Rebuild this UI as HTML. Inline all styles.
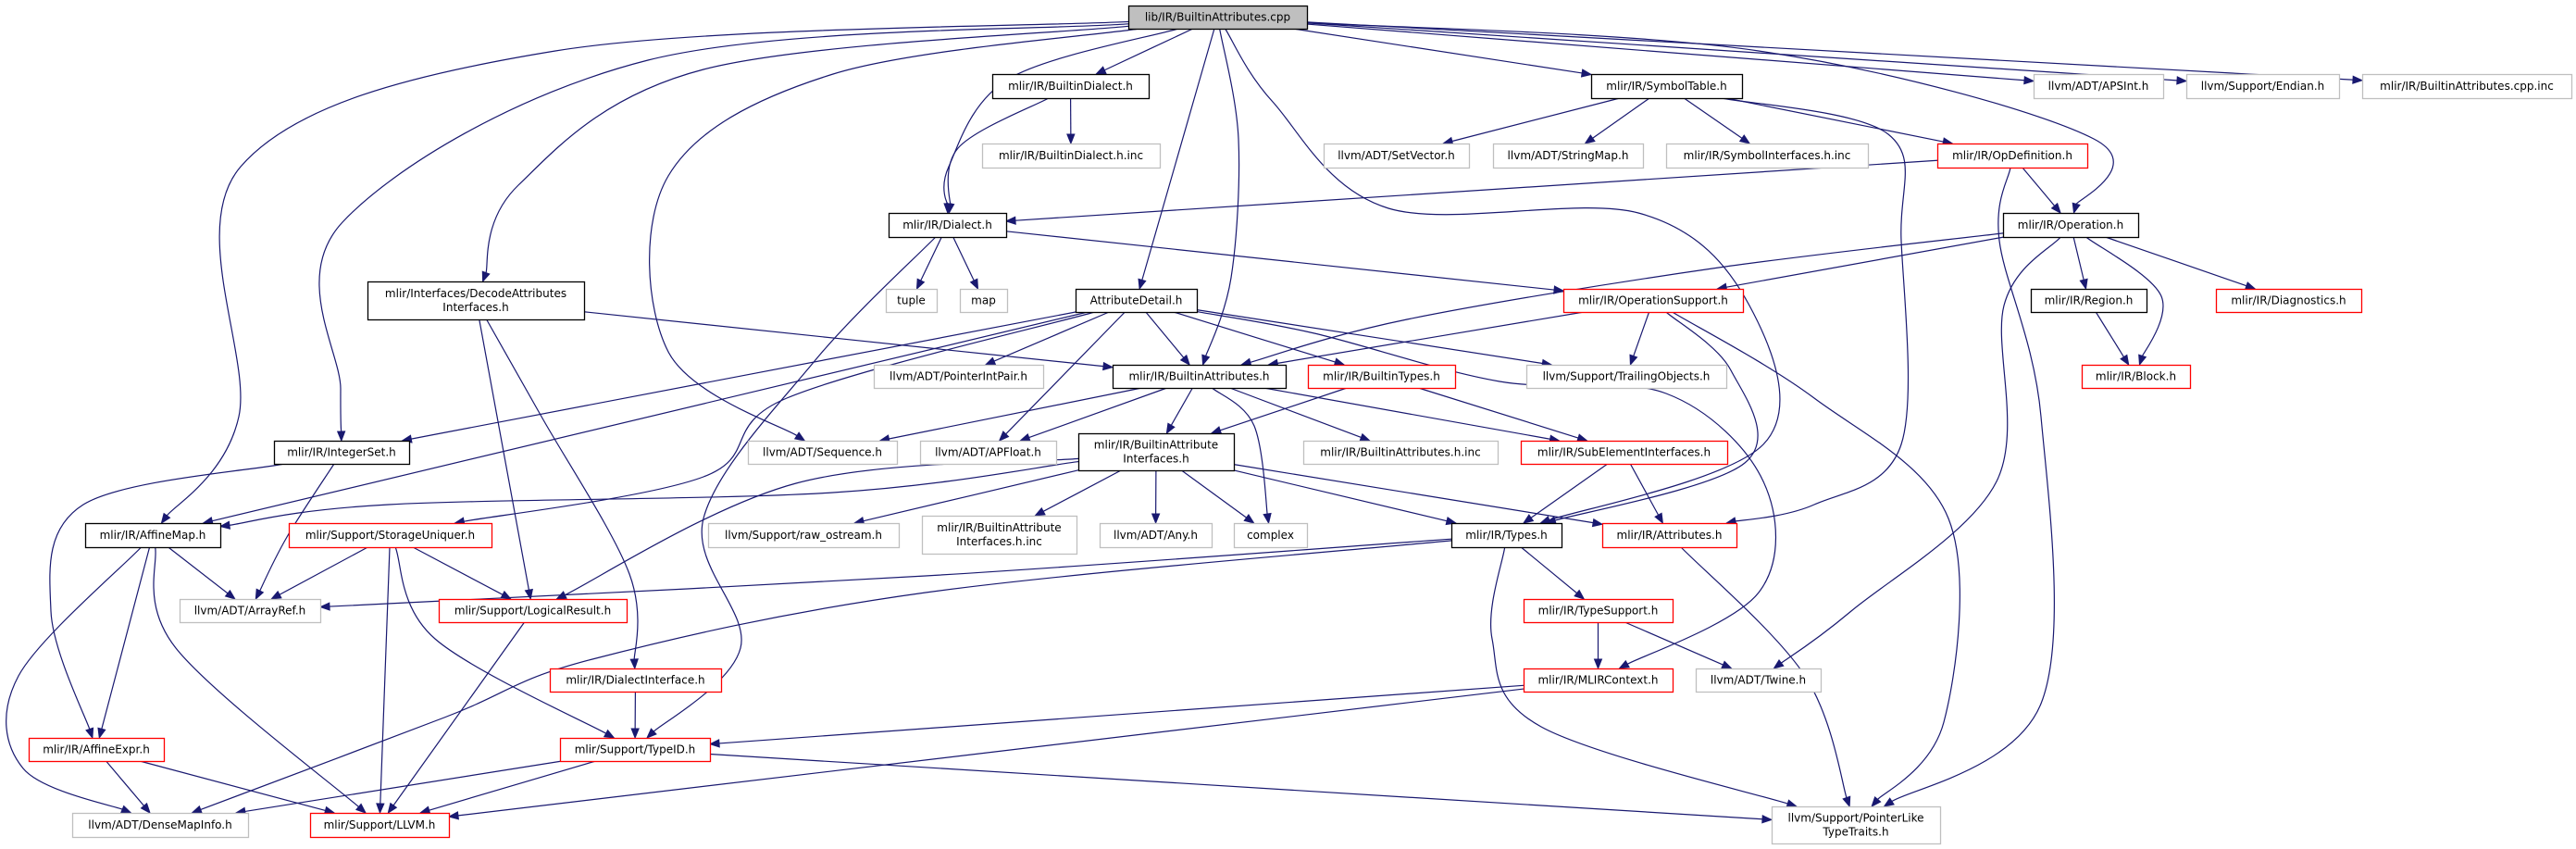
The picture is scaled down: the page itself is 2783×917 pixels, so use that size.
<!DOCTYPE html>
<html><head><meta charset="utf-8"><style>
html,body{margin:0;padding:0;background:#fff;width:2783px;height:917px;overflow:hidden}
svg text{font-family:"DejaVu Sans","Liberation Sans",sans-serif;font-size:12px;fill:#000}
</style></head><body>
<svg id="g" xmlns="http://www.w3.org/2000/svg" width="2783" height="917" viewBox="0 0 2783 917">
<g id="edges"></g><g id="nodes"></g>
</svg>
<script>
var N={
root:[1219,6,193,25,["lib/IR/BuiltinAttributes.cpp"],"root"],
bd:[1072,80,169,26,["mlir/IR/BuiltinDialect.h"],"k"],
bdinc:[1061,155,192,26,["mlir/IR/BuiltinDialect.h.inc"],"g"],
st:[1719,80,163,26,["mlir/IR/SymbolTable.h"],"k"],
apsint:[2197,80,140,26,["llvm/ADT/APSInt.h"],"g"],
endian:[2362,80,165,26,["llvm/Support/Endian.h"],"g"],
cppinc:[2552,80,226,26,["mlir/IR/BuiltinAttributes.cpp.inc"],"g"],
setvec:[1430,155,157,26,["llvm/ADT/SetVector.h"],"g"],
strmap:[1613,155,162,26,["llvm/ADT/StringMap.h"],"g"],
syminc:[1800,155,218,26,["mlir/IR/SymbolInterfaces.h.inc"],"g"],
opdef:[2093,155,162,26,["mlir/IR/OpDefinition.h"],"r"],
dialect:[960,230,127,26,["mlir/IR/Dialect.h"],"k"],
op:[2164,230,146,26,["mlir/IR/Operation.h"],"k"],
decode:[397,304,234,41,["mlir/Interfaces/DecodeAttributes","Interfaces.h"],"k"],
tuple:[957,312,55,25,["tuple"],"g"],
map:[1037,312,51,25,["map"],"g"],
ad:[1162,312,131,25,["AttributeDetail.h"],"k"],
opsup:[1689,312,194,25,["mlir/IR/OperationSupport.h"],"r"],
region:[2194,312,125,25,["mlir/IR/Region.h"],"k"],
diag:[2394,312,157,25,["mlir/IR/Diagnostics.h"],"r"],
pip:[944,394,183,25,["llvm/ADT/PointerIntPair.h"],"g"],
ba:[1202,394,187,25,["mlir/IR/BuiltinAttributes.h"],"k"],
btypes:[1413,394,159,25,["mlir/IR/BuiltinTypes.h"],"r"],
trail:[1649,394,216,25,["llvm/Support/TrailingObjects.h"],"g"],
block:[2249,394,117,25,["mlir/IR/Block.h"],"r"],
iset:[296,476,146,25,["mlir/IR/IntegerSet.h"],"k"],
seq:[808,476,161,25,["llvm/ADT/Sequence.h"],"g"],
apfloat:[994,476,147,25,["llvm/ADT/APFloat.h"],"g"],
bai:[1165,468,168,40,["mlir/IR/BuiltinAttribute","Interfaces.h"],"k"],
bainc:[1408,476,210,25,["mlir/IR/BuiltinAttributes.h.inc"],"g"],
subel:[1643,476,223,25,["mlir/IR/SubElementInterfaces.h"],"r"],
amap:[92,565,146,26,["mlir/IR/AffineMap.h"],"k"],
su:[312,565,219,26,["mlir/Support/StorageUniquer.h"],"r"],
raw:[765,565,206,26,["llvm/Support/raw_ostream.h"],"g"],
baiinc:[996,557,167,41,["mlir/IR/BuiltinAttribute","Interfaces.h.inc"],"g"],
any:[1188,565,121,26,["llvm/ADT/Any.h"],"g"],
complex:[1333,565,79,26,["complex"],"g"],
types:[1568,565,119,26,["mlir/IR/Types.h"],"k"],
attrs:[1731,565,145,26,["mlir/IR/Attributes.h"],"r"],
aref:[194,647,152,25,["llvm/ADT/ArrayRef.h"],"g"],
lres:[474,647,203,25,["mlir/Support/LogicalResult.h"],"r"],
tsup:[1646,647,161,25,["mlir/IR/TypeSupport.h"],"r"],
dint:[594,722,185,25,["mlir/IR/DialectInterface.h"],"r"],
ctx:[1646,722,161,25,["mlir/IR/MLIRContext.h"],"r"],
twine:[1832,722,135,25,["llvm/ADT/Twine.h"],"g"],
aexpr:[31,797,146,25,["mlir/IR/AffineExpr.h"],"r"],
typeid:[605,797,162,25,["mlir/Support/TypeID.h"],"r"],
dmi:[78,878,190,26,["llvm/ADT/DenseMapInfo.h"],"g"],
llvm:[335,878,150,26,["mlir/Support/LLVM.h"],"r"],
plt:[1914,871,182,40,["llvm/Support/PointerLike","TypeTraits.h"],"g"]
};
var E=[
["root","bd"],["root","dialect",[[1090,85],[1025,180]]],["root","decode",[[760,75],[560,200]]],
["root","iset",[[700,65],[370,240],[368,420]]],["root","amap",[[600,55],[260,180],[258,450]]],
["root","seq",[[900,80],[722,190],[722,380]]],["root","ad"],["root","ba",[[1338,150],[1330,300]]],
["root","st"],["root","apsint"],["root","endian"],["root","cppinc"],
["root","op",[[1900,55],[2262,150]]],
["root","types",[[1375,110],[1500,225],[1770,230],[1890,330],[1905,480]]],
["bd","dialect",[[1035,160]]],["bd","bdinc"],
["st","setvec"],["st","strmap"],["st","syminc"],["st","opdef"],["st","attrs",[[2040,145],[2054,260],[2054,480],[1960,545]]],
["opdef","op"],["opdef","dialect"],["opdef","plt",[[2160,260],[2205,450],[2205,760]]],
["op","opsup"],["op","region"],["op","diag"],["op","block",[[2335,320]]],
["op","ba",[[1850,290],[1520,345]]],["op","twine",[[2165,330],[2157,520],[2000,660]]],
["dialect","tuple"],["dialect","map"],["dialect","opsup"],["dialect","typeid",[[880,390],[760,560],[800,700]]],
["region","block"],
["opsup","ba"],["opsup","trail"],["opsup","types",[[1870,400],[1885,500]]],["opsup","plt",[[1960,430],[2105,560],[2100,780]]],
["decode","ba"],["decode","lres"],["decode","dint",[[585,450],[680,620]]],
["ad","pip"],["ad","ba"],["ad","btypes"],["ad","trail"],["ad","apfloat"],["ad","iset"],["ad","amap"],
["ad","su",[[850,430],[760,515]]],["ad","ctx",[[1420,360],[1620,412],[1800,425],[1905,520],[1900,640]]],
["ba","seq"],["ba","apfloat"],["ba","bai"],["ba","bainc"],["ba","subel"],["ba","complex",[[1355,460]]],
["btypes","bai"],["btypes","subel"],
["bai","amap",[[900,532],[420,545]]],["bai","lres",[[860,522]]],["bai","raw"],["bai","baiinc"],["bai","any"],["bai","complex"],["bai","types"],["bai","attrs"],
["subel","types"],["subel","attrs"],
["iset","aexpr",[[90,545],[55,660]]],["iset","aref",[[310,580]]],
["amap","aref"],["amap","aexpr"],["amap","llvm",[[190,700]]],["amap","dmi",[[20,730],[25,830]]],
["su","aref"],["su","lres"],["su","llvm"],["su","typeid",[[470,690]]],
["lres","llvm"],["dint","typeid"],
["aexpr","dmi"],["aexpr","llvm"],
["typeid","dmi"],["typeid","llvm"],["typeid","plt"],
["types","aref",[[1000,622]]],["types","dmi",[[1000,640],[640,712],[480,775]]],["types","tsup"],["types","plt",[[1612,690],[1665,785]]],
["attrs","plt",[[1950,730]]],
["tsup","ctx"],["tsup","twine"],
["ctx","typeid"],["ctx","llvm"]
];
var NS="http://www.w3.org/2000/svg";
function el(t,a,p){var e=document.createElementNS(NS,t);for(var k in a)e.setAttribute(k,a[k]);p.appendChild(e);return e;}
var gn=document.getElementById("nodes"),ge=document.getElementById("edges");
function ctr(n){return [n[0]+n[2]/2,n[1]+n[3]/2];}
function clip(n,p){var c=ctr(n),dx=p[0]-c[0],dy=p[1]-c[1];var hw=n[2]/2,hh=n[3]/2;
var t=Math.min(dx?hw/Math.abs(dx):1e9,dy?hh/Math.abs(dy):1e9);return [c[0]+dx*t,c[1]+dy*t];}
E.forEach(function(e){var s=N[e[0]],t=N[e[1]],w=e[2]||[];
var first=w.length?w[0]:ctr(t),last=w.length?w[w.length-1]:ctr(s);
var S=clip(s,first),T=clip(t,last);
var P=[S].concat(w).concat([T]);
var d="M"+S[0]+","+S[1];
for(var i=0;i<P.length-1;i++){var p0=P[i-1]||P[i],p1=P[i],p2=P[i+1],p3=P[i+2]||P[i+1];
var a=[p1[0]+(p2[0]-p0[0])/6,p1[1]+(p2[1]-p0[1])/6],b=[p2[0]-(p3[0]-p1[0])/6,p2[1]-(p3[1]-p1[1])/6];
if(i==P.length-2){var dx=T[0]-b[0],dy=T[1]-b[1],L=Math.hypot(dx,dy)||1;dx/=L;dy/=L;
var B=[T[0]-10*dx,T[1]-10*dy];if(P.length==2){a=[S[0]+(B[0]-S[0])/3,S[1]+(B[1]-S[1])/3];b=[S[0]+2*(B[0]-S[0])/3,S[1]+2*(B[1]-S[1])/3];}
d+=" C"+a[0]+","+a[1]+" "+b[0]+","+b[1]+" "+B[0]+","+B[1];
el("polygon",{points:T[0]+","+T[1]+" "+(B[0]-4*dy)+","+(B[1]+4*dx)+" "+(B[0]+4*dy)+","+(B[1]-4*dx),fill:"#191970",stroke:"#191970"},ge);
}else d+=" C"+a[0]+","+a[1]+" "+b[0]+","+b[1]+" "+p2[0]+","+p2[1];}
el("path",{d:d,fill:"none",stroke:"#191970","stroke-width":"1.2"},ge);});
for(var k in N){var n=N[k];var col={k:"#000",g:"#bfbfbf",r:"#ff0000",root:"#000"}[n[5]];
el("rect",{x:n[0]+.5,y:n[1]+.5,width:n[2],height:n[3],fill:n[5]=="root"?"#bfbfbf":"#fff",stroke:col,"stroke-width":"1.3"},gn);
var L=n[4],c=ctr(n);L.forEach(function(s,i){var tx=el("text",{x:c[0],y:c[1]+4+(i-(L.length-1)/2)*15,"text-anchor":"middle"},gn);tx.textContent=s;});}
</script>
</body></html>
